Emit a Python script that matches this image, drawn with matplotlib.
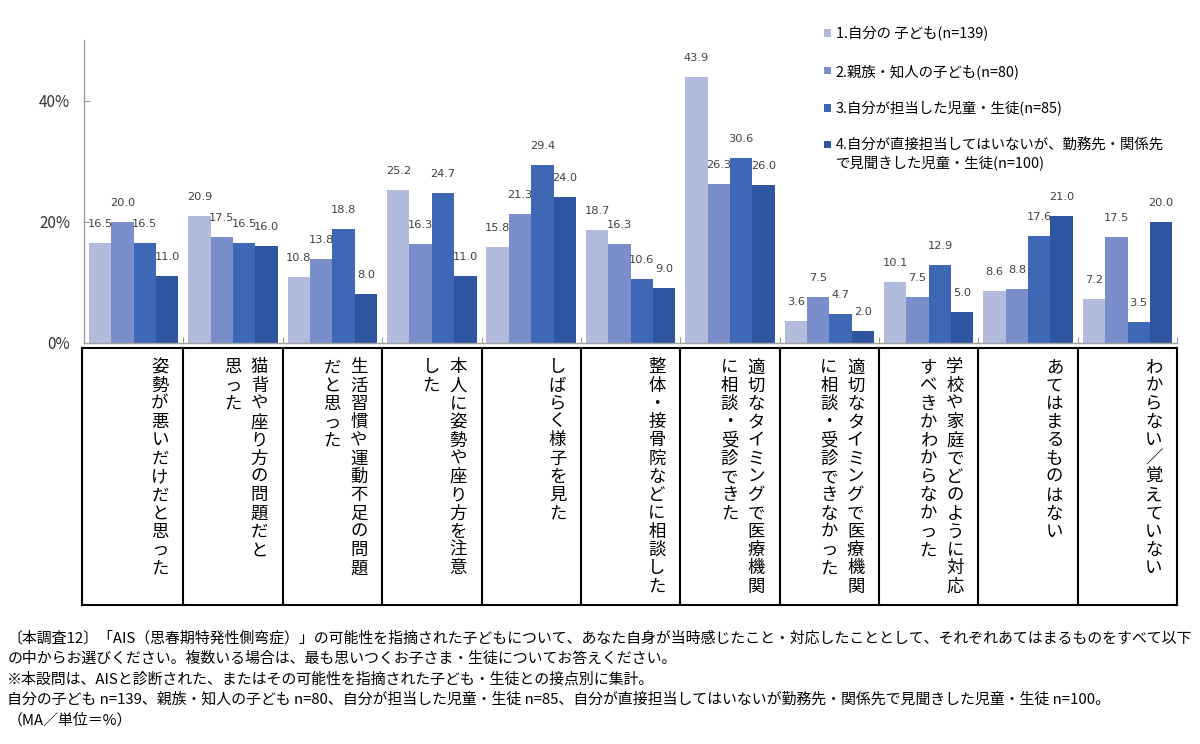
import matplotlib
matplotlib.use('Agg')
import matplotlib.pyplot as plt
import matplotlib.transforms as mtransforms
import numpy as np

plt.rcParams['font.family'] = ['Noto Sans CJK JP', 'DejaVu Sans']

categories = [
    ['姿勢が悪いだけだと思った'],
    ['猫背や座り方の問題だと', '思った'],
    ['生活習慣や運動不足の問題', 'だと思った'],
    ['本人に姿勢や座り方を注意', 'した'],
    ['しばらく様子を見た'],
    ['整体・接骨院などに相談した'],
    ['適切なタイミングで医療機関', 'に相談・受診できた'],
    ['適切なタイミングで医療機関', 'に相談・受診できなかった'],
    ['学校や家庭でどのように対応', 'すべきかわからなかった'],
    ['あてはまるものはない'],
    ['わからない／覚えていない'],
]

series_names = [
    ['1.自分の 子ども(n=139)'],
    ['2.親族・知人の子ども(n=80)'],
    ['3.自分が担当した児童・生徒(n=85)'],
    ['4.自分が直接担当してはいないが、勤務先・関係先', 'で見聞きした児童・生徒(n=100)'],
]

own_child = [16.5, 20.9, 10.8, 25.2, 15.8, 18.7, 43.9, 3.6, 10.1, 8.6, 7.2]
relative_child = [20.0, 17.5, 13.8, 16.3, 21.3, 16.3, 26.3, 7.5, 7.5, 8.8, 17.5]
my_student = [16.5, 16.5, 18.8, 24.7, 29.4, 10.6, 30.6, 4.7, 12.9, 17.6, 3.5]
other_student = [11.0, 16.0, 8.0, 11.0, 24.0, 9.0, 26.0, 2.0, 5.0, 21.0, 20.0]

yticks = [0, 20, 40]
ytick_labels = ['0%', '20%', '40%']

notes = [
    '〔本調査12〕「AIS（思春期特発性側弯症）」の可能性を指摘された子どもについて、あなた自身が当時感じたこと・対応したこととして、それぞれあてはまるものをすべて以下',
    'の中からお選びください。複数いる場合は、最も思いつくお子さま・生徒についてお答えください。',
    '※本設問は、AISと診断された、またはその可能性を指摘された子ども・生徒との接点別に集計。',
    '自分の子ども n=139、親族・知人の子ども n=80、自分が担当した児童・生徒 n=85、自分が直接担当してはいないが勤務先・関係先で見聞きした児童・生徒 n=100。',
    '（MA／単位＝%）',
]

colors = ['#b3bbdd', '#7b8ecc', '#3e68b6', '#2f54a0']

fig = plt.figure(figsize=(12, 7.44), dpi=100)
ax = fig.add_axes([0.07, 0.5394, 0.911, 0.4066])

x = np.arange(len(categories))
w = 0.225
all_series = [own_child, relative_child, my_student, other_student]
for k, vals in enumerate(all_series):
    pos = x + (k - 1.5) * w
    bars = ax.bar(pos, vals, w, color=colors[k], label=series_names[k][0], linewidth=0)
    for b, v in zip(bars, vals):
        ax.annotate('%.1f' % v, (b.get_x() + b.get_width() / 2, v),
                    xytext=(0, 19), textcoords='offset pixels',
                    ha='center', va='center', fontsize=8.2, color='#404040',
                    family=['DejaVu Sans'])

ax.set_xlim(-0.5, len(categories) - 0.5)
ax.set_ylim(0, 50)
ax.set_yticks(yticks)
ax.set_yticklabels(ytick_labels, fontsize=11, color='#333333')
ax.set_xticks(np.arange(len(categories) + 1) - 0.5)
ax.set_xticklabels([])
ax.tick_params(axis='both', direction='in', length=4, color='#999999', width=0.8)
ax.tick_params(axis='y', pad=10)
for s in ['top', 'right']:
    ax.spines[s].set_visible(False)
for s in ['left', 'bottom']:
    ax.spines[s].set_color('#a0a0a0')
    ax.spines[s].set_linewidth(1.0)

leg = ax.legend(loc='upper left', bbox_to_anchor=(0.676, 0.982), bbox_transform=fig.transFigure,
                frameon=False, fontsize=10.4, handlelength=0.45, handleheight=0.45,
                handletextpad=0.35, labelspacing=1.55)

# continuation line of the 4th legend label
fig.canvas.draw()
inv = fig.transFigure.inverted()
bb = leg.get_texts()[3].get_window_extent()
(lx, ly), _ = inv.transform(bb)
fig.text(lx, ly - 3 / 744.0, series_names[3][1], fontsize=10.4, ha='left', va='top')

# table under the bars
trans = mtransforms.blended_transform_factory(ax.transData, ax.transAxes)
t_top, t_bot = -0.0165, -0.868
n = len(categories)
ax.plot([-0.52, n - 0.5], [t_top, t_top], color='black', lw=1.5, transform=trans, clip_on=False)
ax.plot([-0.52, n - 0.5], [t_bot, t_bot], color='black', lw=1.5, transform=trans, clip_on=False)
for i in range(n + 1):
    xe = i - 0.5 if i > 0 else -0.52
    ax.plot([xe, xe], [t_top, t_bot], color='black', lw=1.5, transform=trans, clip_on=False)

pitch = 18.3 / 303.0
for i, lines in enumerate(categories):
    for j, line in enumerate(lines):
        xc = i + 0.265 - 0.27 * j
        for c_i, ch in enumerate(line):
            ax.text(xc, -0.052 - c_i * pitch, ch, transform=trans, ha='center', va='top',
                    fontsize=12.5, color='black')

y0 = 1 - 638 / 744.0
for i, line in enumerate(notes):
    fig.text(0.006, y0 - i * 20.5 / 744.0, line, fontsize=10.75, ha='left', va='center', color='black')

fig.savefig('out.png', dpi=100)
